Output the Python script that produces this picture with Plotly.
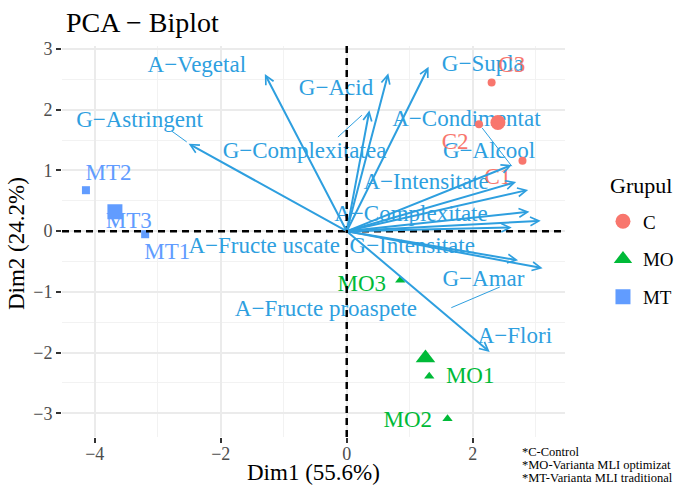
import plotly.graph_objects as go

# ---------------- data ----------------
var_names = ["A−Vegetal", "G−Astringent", "G−Acid", "G−Complexitatea", "G−Supla",
             "A−Condimentat", "G−Alcool", "A−Intensitate", "A−Complexitate",
             "A−Fructe uscate", "G−Intensitate", "A−Fructe proaspete", "G−Amar", "A−Flori"]
var_x = [-1.30, -2.51, 0.66, 0.36, 1.30, 2.62, 2.69, 2.88, 2.90, 3.08, 2.62, 2.72, 3.11, 2.27]
var_y = [2.59, 1.44, 2.60, 1.99, 2.71, 1.09, 0.81, 0.68, 0.32, 0.17, 0.06, -0.48, -0.61, -1.99]
var_label_x = [-2.38, -3.29, -0.17, -0.67, 2.16, 1.90, 2.26, 1.26, 1.02, -1.31, 1.04, -0.33, 2.17, 2.67]
var_label_y = [2.72, 1.81, 2.34, 1.30, 2.74, 1.83, 1.30, 0.79, 0.26, -0.26, -0.26, -1.30, -0.81, -1.75]

# repel connector segments (label side -> arrow tip side)
seg_x0 = [-2.78, -0.14, 2.15, 1.66]
seg_y0 = [1.65, 1.55, 1.70, -1.26]
seg_x1 = [-2.54, 0.24, 2.62, 2.43]
seg_y1 = [1.47, 1.91, 1.07, -0.92]

ind_names = ["C1", "C2", "C3", "MO1", "MO2", "MO3", "MT1", "MT2", "MT3"]
ind_group = ["C", "C", "C", "MO", "MO", "MO", "MT", "MT", "MT"]
ind_x = [2.79, 2.10, 2.30, 1.31, 1.60, 0.85, -3.20, -4.14, -3.70]
ind_y = [1.16, 1.76, 2.45, -2.39, -3.09, -0.81, -0.05, 0.675, 0.335]
ind_label_x = [2.40, 1.72, 2.62, 1.96, 0.97, 0.24, -2.85, -3.78, -3.46]
ind_label_y = [0.87, 1.45, 2.72, -2.41, -3.13, -0.89, -0.36, 0.94, 0.15]

groups = ["C", "MO", "MT"]
group_mean_x = [2.40, 1.25, -3.68]
group_mean_y = [1.79, -2.09, 0.32]

footnotes = ["*C-Control", "*MO-Varianta MLI optimizat", "*MT-Varianta MLI traditional"]

# ---------------- styles ----------------
FONT = "Liberation Serif"
VAR_COL = "#2E9FDF"
group_col = {"C": "#F8766D", "MO": "#00BA38", "MT": "#619CFF"}
group_sym = {"C": "circle", "MO": "triangle-up", "MT": "square"}
small_size = {"C": 8, "MO": 9, "MT": 8}
big_size = {"C": 15, "MO": 17, "MT": 15}

fig = go.Figure()

# connector segments
for x0, y0, x1, y1 in zip(seg_x0, seg_y0, seg_x1, seg_y1):
    fig.add_trace(go.Scatter(x=[x0, x1], y=[y0, y1], mode="lines",
                             line=dict(color=VAR_COL, width=1),
                             showlegend=False, hoverinfo="skip"))

# variable labels
fig.add_trace(go.Scatter(x=var_label_x, y=var_label_y, mode="text", text=var_names,
                         textposition="middle center",
                         textfont=dict(family=FONT, size=23, color=VAR_COL),
                         showlegend=False, hoverinfo="skip"))

# individuals
for g in groups:
    idx = [i for i, gg in enumerate(ind_group) if gg == g]
    fig.add_trace(go.Scatter(x=[ind_x[i] for i in idx], y=[ind_y[i] for i in idx],
                             mode="markers",
                             marker=dict(symbol=group_sym[g], size=small_size[g],
                                         color=group_col[g]),
                             showlegend=False, text=[ind_names[i] for i in idx]))
    fig.add_trace(go.Scatter(x=[ind_label_x[i] for i in idx], y=[ind_label_y[i] for i in idx],
                             mode="text", text=[ind_names[i] for i in idx],
                             textfont=dict(family=FONT, size=23, color=group_col[g]),
                             showlegend=False, hoverinfo="skip"))

# group means (legend)
for k, g in enumerate(groups):
    fig.add_trace(go.Scatter(x=[group_mean_x[k]], y=[group_mean_y[k]], mode="markers",
                             name=g, legendgroup=g,
                             marker=dict(symbol=group_sym[g], size=big_size[g],
                                         color=group_col[g])))

# arrows
for vx, vy in zip(var_x, var_y):
    fig.add_annotation(x=vx, y=vy, ax=0, ay=0, xref="x", yref="y", axref="x", ayref="y",
                       text="", showarrow=True, arrowhead=5, arrowsize=0.85,
                       arrowwidth=2, arrowcolor=VAR_COL, standoff=0, startstandoff=0)

# dashed zero lines
fig.add_shape(type="line", xref="x", yref="paper", x0=0, x1=0, y0=0, y1=1,
              line=dict(color="black", width=2.5, dash="7px,5px"), layer="above")
fig.add_shape(type="line", xref="paper", yref="y", x0=0, x1=1, y0=0, y1=0,
              line=dict(color="black", width=2.5, dash="7px,5px"), layer="above")

# titles & footnotes
fig.add_annotation(text="PCA − Biplot", xref="paper", yref="paper", x=0.004, y=1.059,
                   xanchor="left", yanchor="middle", showarrow=False,
                   font=dict(family=FONT, size=28, color="black"))
fig.add_annotation(text="Dim1 (55.6%)", xref="paper", yref="paper", x=0.5, y=-0.092,
                   xanchor="center", yanchor="middle", showarrow=False,
                   font=dict(family=FONT, size=23, color="black"))
fig.add_annotation(text="Dim2 (24.2%)", xref="paper", yref="paper", x=-0.0915, y=0.496,
                   xanchor="center", yanchor="middle", showarrow=False, textangle=-90,
                   font=dict(family=FONT, size=23, color="black"))
fig.add_annotation(text="Grupul", xref="paper", yref="paper", x=1.0855, y=0.6445,
                   xanchor="left", yanchor="middle", showarrow=False,
                   font=dict(family=FONT, size=22, color="black"))
for i, t in enumerate(footnotes):
    fig.add_annotation(text=t, xref="paper", yref="paper", x=0.9105, y=-0.0384 - 0.0333 * i,
                       xanchor="left", yanchor="middle", showarrow=False,
                       font=dict(family=FONT, size=12.5, color="black"))

axis_common = dict(showline=False, zeroline=False, gridcolor="#EBEBEB", gridwidth=1.5,
                   ticks="outside", ticklen=5, tickwidth=2, tickcolor="#333333",
                   tickfont=dict(family=FONT, size=18, color="#4D4D4D"), automargin=False)

fig.update_xaxes(range=[-4.52, 3.465], dtick=2, tick0=0, ticklabelstandoff=-5,
                 minor=dict(dtick=1, tick0=0, showgrid=True, gridcolor="#F2F2F2", gridwidth=1, ticks=""),
                 **axis_common)
fig.update_yaxes(range=[-3.39, 3.05], dtick=1, tick0=0,
                 minor=dict(dtick=0.5, tick0=0, showgrid=True, gridcolor="#F2F2F2", gridwidth=1, ticks=""),
                 **axis_common)

fig.update_layout(
    width=683, height=487,
    margin=dict(l=62, r=118, t=46, b=50, autoexpand=False),
    plot_bgcolor="white", paper_bgcolor="white",
    font=dict(family=FONT),
    showlegend=True,
    legend=dict(x=1.0755, y=0.60, xanchor="left", yanchor="top",
                font=dict(family=FONT, size=19, color="black"),
                tracegroupgap=10, bgcolor="rgba(0,0,0,0)"),
)

fig.write_html("out.html")
